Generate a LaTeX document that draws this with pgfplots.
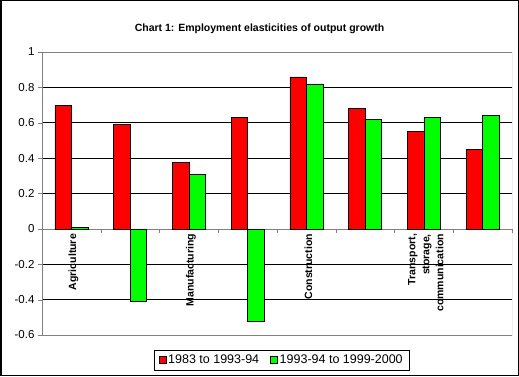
\documentclass[border=0pt]{standalone}
\usepackage{pgfplots}
\pgfplotsset{compat=1.18}
\usepackage{fontspec}
\setmainfont{Liberation Sans}
\begin{document}
\begin{tikzpicture}
\useasboundingbox (0,0) rectangle (519pt,376pt);
\fill[white] (0,0) rectangle (519pt,376pt);
\begin{axis}[
  at={(42pt,41pt)}, anchor=south west,
  scale only axis, width=470pt, height=283pt,
  ybar=0pt, bar width=16.5pt,
  xmin=-0.5, xmax=7.5, ymin=-0.6, ymax=1,
  axis x line*=middle, axis y line*=left,
  hide obscured x ticks=false, hide obscured y ticks=false,
  axis line style={gray},
  tick align=outside, major tick length=4pt,
  tick style={gray},
  xtick={-0.5,0.5,1.5,2.5,3.5,4.5,5.5,6.5,7.5},
  x tick label as interval,
  xticklabels={Agriculture,,Manufacturing,,Construction,,{Transport,\\storage,\\communication},},
  xticklabel style={rotate=90, anchor=east, align=right, font=\bfseries\fontsize{10.5}{14}\selectfont, inner sep=1pt, yshift=-2pt},
  ytick={-0.6,-0.4,-0.2,0,0.2,0.4,0.6,0.8,1},
  yticklabels={-0.6,-0.4,-0.2,0,0.2,0.4,0.6,0.8,1},
  yticklabel style={font=\fontsize{11.5}{13}\selectfont},
  ymajorgrids, grid style={black, line width=0.6pt},
  legend style={at={(rel axis cs:0.51,-0.088)}, anchor=center, draw=black,
    legend columns=2, font=\fontsize{12.5}{15}\selectfont,
    /tikz/every even column/.append style={column sep=9pt},
    inner xsep=4pt, inner ysep=3pt},
  legend image code/.code={\draw[#1,draw=black] (0pt,-3.5pt) rectangle (7pt,3.5pt);},
]
\addplot[fill=red, draw=black, line width=0.5pt] coordinates {(0,0.70) (1,0.59) (2,0.375) (3,0.63) (4,0.86) (5,0.68) (6,0.55) (7,0.45)};
\addplot[fill=green, draw=black, line width=0.5pt] coordinates {(0,0.01) (1,-0.41) (2,0.31) (3,-0.52) (4,0.82) (5,0.62) (6,0.63) (7,0.64)};
\legend{1983 to 1993-94, 1993-94 to 1999-2000}
\draw[gray] (rel axis cs:0,0) rectangle (rel axis cs:1,1);
\end{axis}
\node[font=\bfseries\fontsize{10.5}{12}\selectfont] at (259.5pt,347pt) {Chart 1: Employment elasticities of output growth};
\draw[line width=1.5pt] (0.75pt,0.75pt) rectangle (518.25pt,375.25pt);
\end{tikzpicture}
\end{document}
